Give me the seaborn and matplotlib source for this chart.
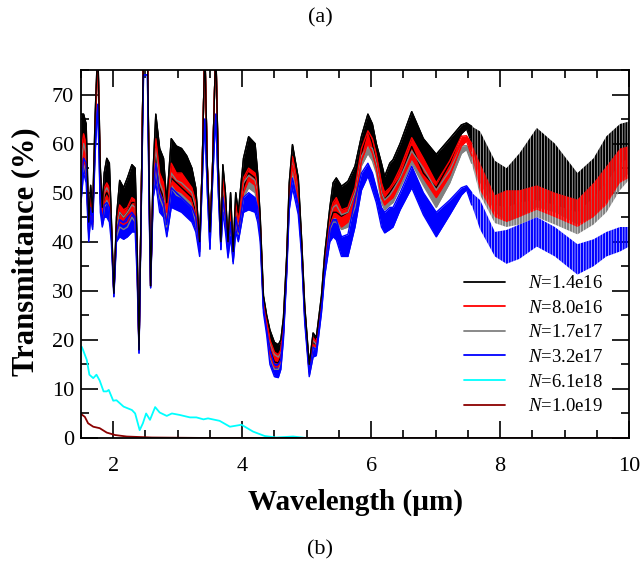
import numpy as np
import pandas as pd
import matplotlib
matplotlib.use("Agg")
import matplotlib.pyplot as plt
from matplotlib.lines import Line2D
from matplotlib.ticker import MultipleLocator
import seaborn as sns

# ---------------- data ----------------
wavelength = [1.50, 1.54, 1.58, 1.62, 1.65, 1.68, 1.72, 1.76, 1.80, 1.83,
              1.86, 1.90, 1.94, 1.97, 2.01, 2.05, 2.10, 2.16, 2.22, 2.29,
              2.34, 2.37, 2.40, 2.43, 2.47, 2.53, 2.56, 2.58, 2.62, 2.66,
              2.72, 2.78, 2.83, 2.90, 2.98, 3.06, 3.14, 3.22, 3.28, 3.34,
              3.38, 3.42, 3.46, 3.50, 3.54, 3.59, 3.63, 3.67, 3.70, 3.74,
              3.78, 3.82, 3.86, 3.90, 3.94, 4.02, 4.10, 4.20, 4.24, 4.28,
              4.33, 4.38, 4.43, 4.50, 4.56, 4.60, 4.64, 4.69, 4.73, 4.78,
              4.83, 4.87, 4.92, 4.97, 5.04, 5.10, 5.15, 5.23, 5.28, 5.36,
              5.41, 5.46, 5.54, 5.64, 5.75, 5.85, 5.95, 6.02, 6.08, 6.16,
              6.21, 6.29, 6.34, 6.45, 6.63, 6.81, 7.01, 7.22, 7.40, 7.48,
              7.56, 7.69, 7.92, 8.10, 8.30, 8.57, 8.85, 9.20, 9.45, 9.65,
              9.86, 10.0]

black_upper = [66, 66, 64, 44, 51.5, 46, 66, 80, 55, 47,
               54, 57, 56, 45, 29.5, 45, 52.5, 51, 53, 55.7,
               55, 40, 18, 45, 80, 80, 50, 31, 55, 66,
               59, 57, 48, 61, 59.5, 59, 57.5, 55, 51, 40,
               55, 80, 55, 42, 55, 80, 55, 40, 55.7, 50,
               40, 50, 38, 50, 46, 57, 61.4, 60, 54, 45,
               29, 25, 22, 19.5, 19, 20, 24.5, 37, 52, 59.8,
               56, 53, 41, 27, 15, 21.4, 20.5, 29, 37.5, 47,
               52, 53, 51.3, 52.3, 55.4, 61.5, 66, 64, 60, 56,
               53.3, 56, 56.7, 60, 66.5, 61, 57.8, 61, 63.8, 64.2,
               63.5, 62.5, 56.5, 55, 58, 63.2, 60, 54, 57, 61.5,
               64, 64.5]
black_lower = [52, 57, 55, 42, 47, 44, 62, 80, 50, 45,
               49, 50, 49, 43, 29.5, 43, 46, 45, 46, 48,
               48, 36, 18, 45, 80, 80, 48, 31, 52, 58,
               51, 49, 45, 53, 52, 51, 50, 49, 46, 39,
               55, 80, 55, 42, 55, 80, 55, 40, 50, 46,
               39, 46, 37, 47, 43, 51, 54, 53, 50, 43,
               27, 23, 18, 15.5, 15.3, 16.5, 22, 35, 50, 57,
               53, 50, 39.5, 25.5, 13.5, 19.5, 19, 27.5, 35.5, 44,
               46, 46, 45.2, 46, 50, 58, 62.9, 60, 56, 50,
               48.6, 50, 51, 53, 59.4, 54, 51, 56, 62, 63,
               60, 52, 46, 44, 45, 47, 46, 43.5, 45, 48,
               52, 54]
red_upper = [58, 62, 60, 43, 49, 45, 64, 80, 53, 46,
             51, 52, 51, 44, 29.5, 44, 47.5, 46.5, 47, 49,
             48.5, 38, 18, 45, 80, 80, 49, 31, 53.5, 61,
             54, 52, 46, 56, 54, 54, 52.5, 51, 48, 39.5,
             55, 80, 55, 41, 55, 80, 54, 39.5, 53, 48,
             39, 47, 37, 48, 44, 53, 55, 54, 51, 44,
             28, 24, 20, 17.5, 17, 18, 23.5, 36, 51, 57.4,
             54, 51, 40, 26, 14, 20.5, 19.5, 28, 36.5, 45.5,
             48, 49, 46.5, 47, 51, 59, 62.6, 61, 57.8, 52,
             50, 51, 52, 55, 61.2, 57, 52, 56.5, 61.5, 61.6,
             60, 56, 49.5, 50.5, 50.5, 51.5, 50, 48.6, 52, 55.4,
             59, 59.5]
red_lower = [52, 57, 55, 41.5, 46.5, 43.5, 61, 80, 49, 44,
             48, 49, 48, 42, 29.5, 42, 44, 43.5, 44, 46,
             45, 35, 18, 45, 80, 80, 47, 31, 51, 56,
             50, 48, 44, 52, 50.5, 50, 49, 48, 45, 38.5,
             55, 80, 55, 41, 55, 80, 54, 39.5, 49, 45,
             38, 44, 36.5, 45, 42, 50, 52.5, 51.5, 48.5, 42,
             27, 22.5, 17, 14.5, 14.5, 16, 21.5, 34.5, 49, 55.5,
             52, 48.5, 39, 25, 13.5, 19, 18.5, 27, 35, 43,
             45, 45, 43, 44, 48, 56.5, 60, 58, 55, 49,
             47.5, 48.5, 49, 52, 57, 53, 49, 53.5, 59.5, 60.5,
             57.5, 50.5, 45, 44, 45, 46.5, 45, 43, 45, 47.5,
             52, 53]
gray_upper = [56, 60, 58, 42.5, 48, 44.5, 63, 80, 52, 45.5,
              50, 51, 50, 43, 29.5, 43, 46, 45, 46, 47.5,
              47, 37, 18, 45, 80, 80, 48, 31, 53, 59,
              52, 50, 45, 54, 52.5, 52, 51, 50, 47, 39,
              55, 80, 55, 40.5, 55, 80, 53, 39, 52, 47,
              38.5, 46, 36.5, 47, 43.5, 52, 53.5, 52.5, 50, 43,
              27.5, 23.5, 19.5, 17, 16.5, 17.5, 23, 35.5, 50.5, 56.5,
              53, 50, 39.5, 25.5, 14, 20, 19, 27.5, 36, 45,
              47, 47.5, 45.5, 46, 50, 57.5, 59.5, 59, 56, 50,
              48.5, 49.5, 50.5, 53, 58.5, 55, 50.5, 54.5, 59.5, 59.6,
              58, 54, 47.5, 47, 48, 48.5, 47.5, 46, 49, 52,
              56, 57]
gray_lower = [50, 56, 54, 41, 46, 43, 60, 80, 48, 43.5,
              47, 48, 47, 41.5, 29.5, 41, 43, 42.5, 43, 45,
              44, 34.5, 18, 45, 80, 80, 46, 31, 50.5, 55,
              49, 47, 43, 51, 49.5, 49, 48, 47, 44, 38,
              55, 80, 55, 40.5, 55, 80, 53, 39, 48, 44,
              37.5, 43, 36, 44, 41.5, 49, 51, 50, 47.5, 41.5,
              26.5, 22, 16.5, 14, 14, 15.5, 21, 34, 48.5, 54.5,
              51, 48, 38.5, 24.5, 13, 18.5, 18, 26.5, 34.5, 42.5,
              44, 44, 42.5, 43, 47, 55.5, 58, 56.5, 54, 48,
              46.5, 47.5, 48, 51, 56, 51.5, 47, 52, 58, 58.8,
              56, 49.5, 43.8, 43, 43.5, 45, 43.5, 41.5, 43.5, 46,
              50.5, 52.6]
blue_upper = [50, 57, 56, 41.5, 47, 44, 61, 68, 48, 44,
              47.5, 48, 47, 42, 28.8, 42, 44.5, 44, 45, 46,
              45, 36, 17.3, 43, 74, 74, 46, 30.6, 51, 56,
              50, 48, 43.5, 51, 50, 49, 48, 47, 45, 38,
              52, 65, 50, 38.5, 52, 66, 50, 38.4, 49, 45,
              37.5, 44, 36, 45, 42, 49, 50, 49, 47, 41.5,
              26.5, 22, 18, 15, 15, 16, 21.5, 34.5, 48, 53,
              50, 47.5, 38.5, 24.5, 13.5, 18.5, 18, 26.5, 34.5, 43,
              44.5, 44.5, 41, 41.5, 48.6, 54, 56, 54, 51, 47,
              46, 47, 47, 50, 55.4, 50, 46, 48.5, 51, 51.4,
              50, 48.5, 42, 42.4, 43.5, 45, 43, 39.5, 40.5, 42,
              43, 43]
blue_lower = [48, 54, 52, 40, 45, 42.5, 58, 68, 46, 43,
              45, 45, 44, 40, 28.8, 40, 41, 40.5, 41, 42,
              42, 33, 17.3, 43, 74, 74, 44, 30.6, 49, 52,
              46, 45, 41, 47, 46.5, 46, 45, 44, 42, 37,
              52, 65, 50, 38.5, 52, 66, 50, 38.4, 46, 42,
              36.7, 41, 35.5, 42, 40, 46, 46.5, 46, 44, 40,
              25.5, 21, 15, 12.5, 12.3, 14, 20, 33, 46.5, 51,
              48, 45.5, 37.5, 23.5, 12.5, 16.5, 16.8, 25.5, 33, 40,
              41, 40.4, 37, 37, 43, 50.5, 53.4, 50.5, 48, 43,
              41.8, 42.5, 43, 46.5, 51, 45.5, 41, 45.5, 49.5, 50.6,
              47.5, 42.5, 37, 35.5, 36.5, 39, 37, 33.3, 35, 37,
              38, 39]

cyan_wl = [1.51, 1.53, 1.59, 1.63, 1.69, 1.74, 1.79, 1.85, 1.90, 1.93,
           2.00, 2.05, 2.16, 2.29, 2.34, 2.41, 2.46, 2.51, 2.57, 2.65,
           2.72, 2.83, 2.91, 3.03, 3.19, 3.29, 3.40, 3.47, 3.65, 3.81,
           3.99, 4.17, 4.35, 4.53, 4.79, 5.0, 6.0, 10.0]
cyan_T = [18.6, 18.0, 15.9, 12.9, 12.2, 12.9, 11.7, 9.5, 9.5, 9.8,
          7.6, 7.7, 6.4, 5.7, 5.0, 1.6, 3.0, 5.0, 3.7, 6.3,
          5.2, 4.5, 5.0, 4.7, 4.2, 4.2, 3.8, 4.0, 3.5, 2.3,
          2.7, 1.3, 0.4, 0.1, 0.3, 0.0, 0.0, 0.0]

darkred_wl = [1.51, 1.56, 1.61, 1.69, 1.79, 1.90, 2.03, 2.21, 2.60, 3.5, 10.0]
darkred_T = [4.8, 4.3, 3.0, 2.3, 2.0, 1.1, 0.6, 0.3, 0.1, 0.0, 0.0]

legend_labels = [r"$N$=1.4e16", r"$N$=8.0e16", r"$N$=1.7e17",
                 r"$N$=3.2e17", r"$N$=6.1e18", r"$N$=1.0e19"]
legend_colors = ["#000000", "#ff0000", "#808080", "#0000ff", "#00ffff", "#8b0000"]

# ---------------- style ----------------
sns.set_theme(style="ticks")
plt.rcParams["font.family"] = ["Liberation Serif", "DejaVu Serif"]
plt.rcParams["mathtext.fontset"] = "custom"
plt.rcParams["mathtext.rm"] = "Liberation Serif"
plt.rcParams["mathtext.it"] = "Liberation Serif:italic"
plt.rcParams["hatch.linewidth"] = 1.6
plt.rcParams["axes.edgecolor"] = "black"
plt.rcParams["text.color"] = "black"
plt.rcParams["axes.labelcolor"] = "black"
plt.rcParams["xtick.color"] = "black"
plt.rcParams["ytick.color"] = "black"
plt.rcParams["xtick.labelcolor"] = "black"
plt.rcParams["ytick.labelcolor"] = "black"

fig = plt.figure(figsize=(6.4, 5.69), dpi=100)
ax = fig.add_axes([81 / 640, 1 - 438 / 569, 548 / 640, 368 / 569])

wl = np.array(wavelength)
solid = wl <= 7.56
fringe = wl >= 7.56

bands = [
    (black_upper, black_lower, legend_colors[0]),
    (gray_upper, gray_lower, legend_colors[2]),
    (red_upper, red_lower, legend_colors[1]),
    (blue_upper, blue_lower, legend_colors[3]),
]
for up, lo, col in bands:
    up = np.array(up, dtype=float)
    lo = np.array(lo, dtype=float)
    ax.fill_between(wl, lo, up, where=solid, color=col, lw=0)
    ax.fill_between(wl, lo, up, where=fringe, facecolor="none",
                    edgecolor=col, hatch="||||||", lw=0)
    df = pd.DataFrame({"wl": wl[solid], "up": up[solid], "lo": lo[solid]})
    sns.lineplot(data=df, x="wl", y="up", color=col, lw=1.0, ax=ax,
                 estimator=None, sort=False, legend=False)
    sns.lineplot(data=df, x="wl", y="lo", color=col, lw=1.0, ax=ax,
                 estimator=None, sort=False, legend=False)

# black top envelope on top so that narrow peaks keep their dark outline
top_df = pd.DataFrame({"wl": wl[solid], "up": np.array(black_upper, dtype=float)[solid]})
sns.lineplot(data=top_df, x="wl", y="up", color=legend_colors[0], lw=1.0, ax=ax,
             estimator=None, sort=False, legend=False)

sns.lineplot(x=cyan_wl, y=cyan_T, color=legend_colors[4], lw=1.3, ax=ax,
             estimator=None, sort=False, legend=False)
sns.lineplot(x=darkred_wl, y=darkred_T, color=legend_colors[5], lw=1.3, ax=ax,
             estimator=None, sort=False, legend=False)

ax.set_xlim(1.5, 10)
ax.set_ylim(0, 75)
ax.xaxis.set_major_locator(MultipleLocator(2))
ax.xaxis.set_minor_locator(MultipleLocator(0.5))
ax.yaxis.set_major_locator(MultipleLocator(10))
ax.yaxis.set_minor_locator(MultipleLocator(5))
ax.tick_params(which="both", direction="in", top=True, right=True,
               width=1.2, labelsize=16)
ax.tick_params(which="major", length=12)
ax.tick_params(which="minor", length=6)
ax.tick_params(axis="x", pad=14)
ax.tick_params(axis="y", pad=5)
for s in ax.spines.values():
    s.set_linewidth(1.3)
    s.set_color("black")

ax.set_xlabel("Wavelength (\u00b5m)", fontsize=21, fontweight="bold")
ax.set_ylabel("Transmittance (%)", fontsize=22, fontweight="bold")
ax.xaxis.label.set_va("center")
ax.yaxis.label.set_va("center")
ax.xaxis.set_label_coords(0.5, (438 - 502) / 368)
ax.yaxis.set_label_coords((26 - 81) / 548, 0.505)

handles = [Line2D([], [], color=c, lw=1.3) for c in legend_colors]
ax.legend(handles, legend_labels, loc="upper left",
          bbox_to_anchor=(464 / 640, 1 - 275 / 569),
          bbox_transform=fig.transFigure, frameon=False, fontsize=13.5,
          handlelength=2.2, handletextpad=1.2, labelspacing=0.4,
          borderpad=0, borderaxespad=0)

fig.text(0.5, 1 - 18 / 569, "(a)", ha="center", va="center", fontsize=16)
fig.text(0.5, 1 - 550 / 569, "(b)", ha="center", va="center", fontsize=16)

fig.savefig("out.png", dpi=100)
